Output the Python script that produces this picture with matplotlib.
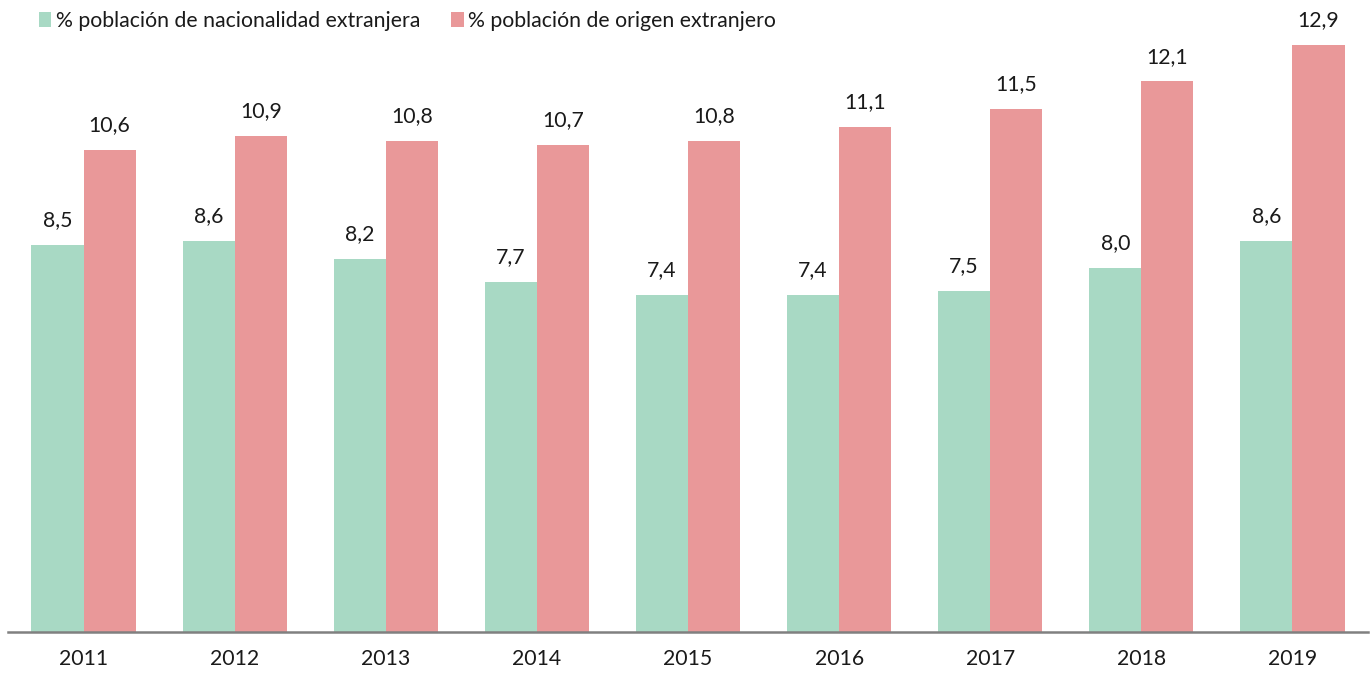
import matplotlib
matplotlib.use("Agg")
import matplotlib.pyplot as plt
import numpy as np

plt.rcParams['font.family'] = ['Lato', 'DejaVu Sans']

years = ["2011", "2012", "2013", "2014", "2015", "2016", "2017", "2018", "2019"]
nacionalidad = [8.5, 8.6, 8.2, 7.7, 7.4, 7.4, 7.5, 8.0, 8.6]
origen = [10.6, 10.9, 10.8, 10.7, 10.8, 11.1, 11.5, 12.1, 12.9]
series_names = ["% población de nacionalidad extranjera", "% población de origen extranjero"]

green = "#A8D9C4"
red = "#E99899"
fs = 15.3

fig = plt.figure(figsize=(13.7, 6.74), dpi=100)
ax = fig.add_axes([8/1370, 42/674, 1360/1370, 632/674])

x = np.arange(len(years))
w = 0.345
b1 = ax.bar(x - w/2, nacionalidad, width=w, color=green, label=series_names[0])
b2 = ax.bar(x + w/2, origen, width=w, color=red, label=series_names[1])

for bars, vals in ((b1, nacionalidad), (b2, origen)):
    for rect, v in zip(bars, vals):
        ax.annotate(f"{v:.1f}".replace(".", ","),
                    (rect.get_x() + rect.get_width()/2, rect.get_height()),
                    xytext=(0, 13.5), textcoords="offset points",
                    ha="center", va="baseline", fontsize=fs, color="#1a1a1a")

ax.set_xlim(-0.5, len(years) - 0.5)
ax.set_ylim(0, 632/45.5)
ax.set_xticks(x)
ax.set_xticklabels(years, fontsize=fs, color="#1a1a1a")
ax.tick_params(axis="x", length=0, pad=12)
ax.set_yticks([])
for s in ["top", "right", "left"]:
    ax.spines[s].set_visible(False)
ax.spines["bottom"].set_color("#808080")
ax.spines["bottom"].set_linewidth(1.8)

leg = fig.legend(handles=[b1, b2], loc="upper left", bbox_to_anchor=(28/1370, 1.0),
                 ncol=2, frameon=False, fontsize=fs, handlelength=0.6, handleheight=0.7,
                 handletextpad=0.2, columnspacing=1.45, borderaxespad=0.1)
for t in leg.get_texts():
    t.set_color("#1a1a1a")

fig.savefig("out.png", dpi=100)
